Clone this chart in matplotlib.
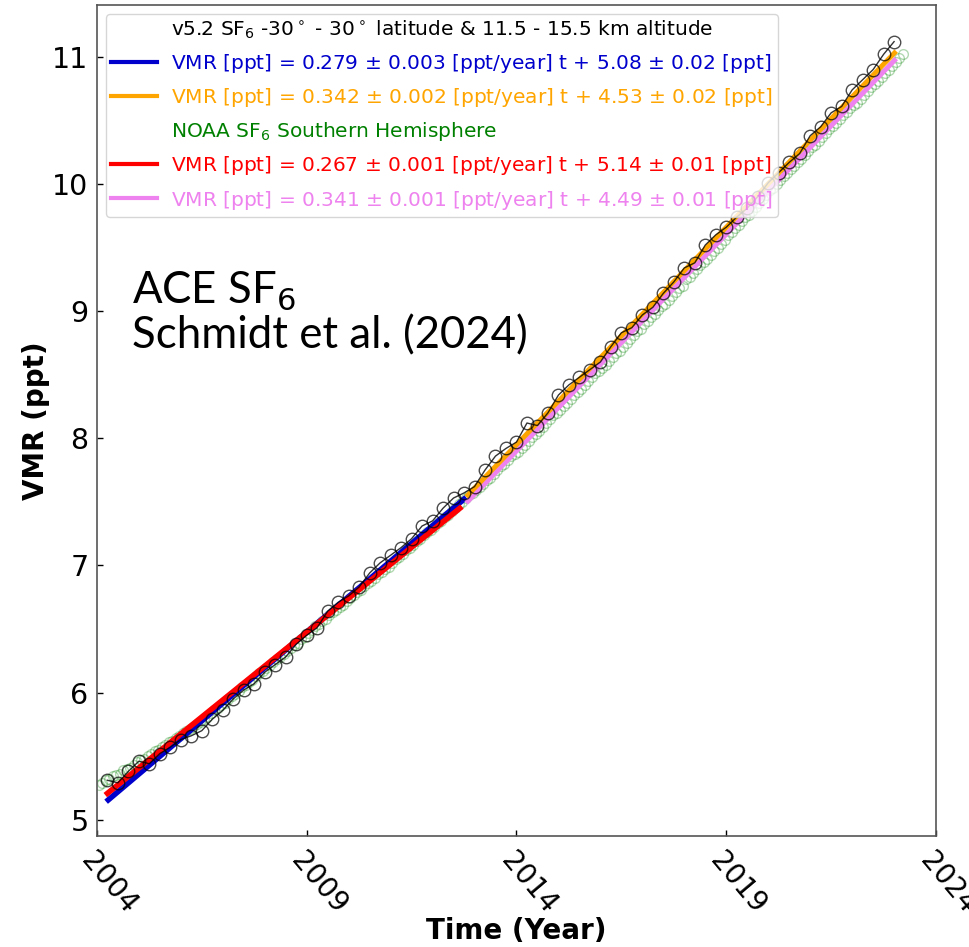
import numpy as np
import matplotlib
matplotlib.use("Agg")
import matplotlib.pyplot as plt
from matplotlib.lines import Line2D

# ---------------- data ----------------
# ACE-FTS v5.2 SF6 (-30..30 lat, 11.5-15.5 km), quarterly points
ace_start = 2004.25
ace_vmr = [5.31, 5.29, 5.38, 5.46, 5.44, 5.52, 5.57, 5.63, 5.66, 5.70,
           5.79, 5.86, 5.95, 6.02, 6.07, 6.16, 6.22, 6.28, 6.38, 6.45,
           6.51, 6.64, 6.71, 6.76, 6.83, 6.94, 7.02, 7.08, 7.14, 7.21,
           7.31, 7.35, 7.45, 7.53, 7.57, 7.62, 7.75, 7.86, 7.92, 7.97,
           8.12, 8.10, 8.20, 8.34, 8.42, 8.48, 8.54, 8.60, 8.72, 8.83,
           8.87, 8.97, 9.03, 9.14, 9.23, 9.34, 9.38, 9.52, 9.60, 9.66,
           9.74, 9.81, 9.90, 10.01, 10.09, 10.17, 10.24, 10.38, 10.45, 10.56,
           10.61, 10.74, 10.82, 10.90, 11.02, 11.12]
ace_years = ace_start + 0.25 * np.arange(len(ace_vmr))

# NOAA SF6 Southern Hemisphere, monthly
noaa_vmr = [
    5.27, 5.29, 5.31, 5.32, 5.34, 5.35, 5.36, 5.39, 5.40, 5.41, 5.43, 5.45,   # 2004
    5.47, 5.48, 5.50, 5.52, 5.54, 5.55, 5.57, 5.59, 5.61, 5.62, 5.64, 5.66,   # 2005
    5.68, 5.70, 5.71, 5.73, 5.75, 5.77, 5.79, 5.81, 5.84, 5.86, 5.88, 5.90,   # 2006
    5.92, 5.95, 5.97, 5.99, 6.01, 6.04, 6.06, 6.08, 6.10, 6.13, 6.15, 6.17,   # 2007
    6.19, 6.22, 6.24, 6.26, 6.28, 6.30, 6.33, 6.35, 6.37, 6.39, 6.42, 6.44,   # 2008
    6.47, 6.49, 6.52, 6.54, 6.56, 6.58, 6.61, 6.63, 6.65, 6.67, 6.69, 6.72,   # 2009
    6.74, 6.77, 6.79, 6.81, 6.84, 6.86, 6.88, 6.90, 6.93, 6.95, 6.97, 6.99,   # 2010
    7.02, 7.05, 7.07, 7.09, 7.12, 7.14, 7.16, 7.19, 7.21, 7.24, 7.26, 7.28,   # 2011
    7.30, 7.33, 7.35, 7.38, 7.40, 7.43, 7.45, 7.48, 7.50, 7.53, 7.55, 7.57,   # 2012
    7.59, 7.62, 7.64, 7.67, 7.69, 7.72, 7.75, 7.78, 7.80, 7.83, 7.86, 7.88,   # 2013
    7.89, 7.92, 7.95, 7.98, 8.01, 8.03, 8.06, 8.09, 8.12, 8.15, 8.18, 8.20,   # 2014
    8.22, 8.25, 8.28, 8.31, 8.34, 8.36, 8.39, 8.42, 8.45, 8.48, 8.51, 8.53,   # 2015
    8.55, 8.58, 8.61, 8.64, 8.67, 8.69, 8.72, 8.75, 8.78, 8.81, 8.84, 8.86,   # 2016
    8.90, 8.92, 8.95, 8.98, 9.01, 9.04, 9.06, 9.09, 9.12, 9.15, 9.18, 9.20,   # 2017
    9.25, 9.27, 9.30, 9.33, 9.36, 9.39, 9.41, 9.44, 9.47, 9.50, 9.53, 9.56,   # 2018
    9.60, 9.62, 9.65, 9.68, 9.71, 9.74, 9.76, 9.79, 9.82, 9.85, 9.88, 9.91,   # 2019
    9.95, 9.97, 10.00, 10.03, 10.06, 10.09, 10.12, 10.14, 10.17, 10.20, 10.23, 10.26,  # 2020
    10.29, 10.31, 10.34, 10.37, 10.40, 10.43, 10.46, 10.48, 10.51, 10.54, 10.57, 10.60,  # 2021
    10.62, 10.64, 10.67, 10.70, 10.73, 10.76, 10.79, 10.81, 10.84, 10.87, 10.90, 10.93,  # 2022
    10.96, 10.99, 11.02,                                                      # 2023
]
noaa_years = 2004 + (np.arange(len(noaa_vmr)) + 0.5) / 12.0

# Linear fits (t = years since 2004): slope, intercept, start, end
t0 = 2004.0
fit_ace_1 = dict(slope=0.279, icpt=5.08, start=2004.22, end=2012.8)
fit_ace_2 = dict(slope=0.342, icpt=4.53, start=2012.8, end=2023.05)
fit_noaa_1 = dict(slope=0.267, icpt=5.14, start=2004.2, end=2012.7)
fit_noaa_2 = dict(slope=0.341, icpt=4.49, start=2012.8, end=2023.05)

legend_labels = [
    r"v5.2 SF$_6$ -30$^\circ$ - 30$^\circ$ latitude & 11.5 - 15.5 km altitude",
    r"VMR [ppt] = 0.279 $\pm$ 0.003 [ppt/year] t + 5.08 $\pm$ 0.02 [ppt]",
    r"VMR [ppt] = 0.342 $\pm$ 0.002 [ppt/year] t + 4.53 $\pm$ 0.02 [ppt]",
    r"NOAA SF$_6$ Southern Hemisphere",
    r"VMR [ppt] = 0.267 $\pm$ 0.001 [ppt/year] t + 5.14 $\pm$ 0.01 [ppt]",
    r"VMR [ppt] = 0.341 $\pm$ 0.001 [ppt/year] t + 4.49 $\pm$ 0.01 [ppt]",
]
legend_colors = ["black", "mediumblue", "orange", "green", "red", "violet"]

x_ticks = [2004, 2009, 2014, 2019, 2024]
y_ticks = [5, 6, 7, 8, 9, 10, 11]

# ---------------- plot ----------------
fig = plt.figure(figsize=(9.69, 9.47), dpi=100)
ax = fig.add_axes([0.100, 0.117, 0.866, 0.878])


def fit_line(f):
    tt = np.array([f["start"], f["end"]])
    return tt, f["icpt"] + f["slope"] * (tt - t0)


ax.plot(noaa_years, noaa_vmr, 'o', mfc='none', mec='green', ms=7, mew=1,
        alpha=0.3, zorder=1)

for f, c, lw in [(fit_ace_1, "mediumblue", 4), (fit_noaa_1, "red", 4),
                 (fit_noaa_2, "violet", 3.5), (fit_ace_2, "orange", 3.5)]:
    xx, yy = fit_line(f)
    ax.plot(xx, yy, '-', color=c, lw=lw, solid_capstyle='butt', zorder=2)

ax.plot(ace_years, ace_vmr, '-', color='black', lw=1, alpha=0.8, zorder=3)
ax.plot(ace_years, ace_vmr, 'o', mfc='none', mec='black', ms=9, mew=1,
        alpha=0.7, zorder=3)

ax.set_xlim(2004, 2024)
ax.set_ylim(4.87, 11.41)
ax.set_xticks(x_ticks)
ax.set_xticklabels([str(v) for v in x_ticks], rotation=-50, ha='left',
                   va='top', rotation_mode='anchor', fontsize=20)
ax.set_yticks(y_ticks)
ax.set_yticklabels([str(v) for v in y_ticks], fontsize=20.5)
ax.tick_params(direction='in', length=4, width=1, pad=6)
ax.tick_params(axis='x', pad=8)
for s in ax.spines.values():
    s.set_color('#555555')
    s.set_linewidth(1.2)

ax.set_xlabel("Time (Year)", fontsize=20, fontweight='bold', labelpad=-2)
ax.set_ylabel("VMR (ppt)", fontsize=20, fontweight='bold', labelpad=2)

handles = [
    Line2D([], [], lw=0, color='none'),
    Line2D([], [], lw=3, color='mediumblue'),
    Line2D([], [], lw=3, color='orange'),
    Line2D([], [], lw=0, color='none'),
    Line2D([], [], lw=3, color='red'),
    Line2D([], [], lw=3, color='violet'),
]
leg = ax.legend(handles, legend_labels, loc='upper left', fontsize=14.5,
                handlelength=2.3, handletextpad=0.7, labelspacing=0.55,
                borderaxespad=0.45, borderpad=0.25, framealpha=0.8,
                fancybox=True)
for t, c in zip(leg.get_texts(), legend_colors):
    t.set_color(c)
leg.set_zorder(5)

ax.text(0.042, 0.682, "ACE SF$_6$\nSchmidt et al. (2024)",
        transform=ax.transAxes, fontsize=31.5, family='Lato',
        va='top', ha='left', linespacing=1.12, zorder=6)

fig.savefig("out.png", dpi=100)
